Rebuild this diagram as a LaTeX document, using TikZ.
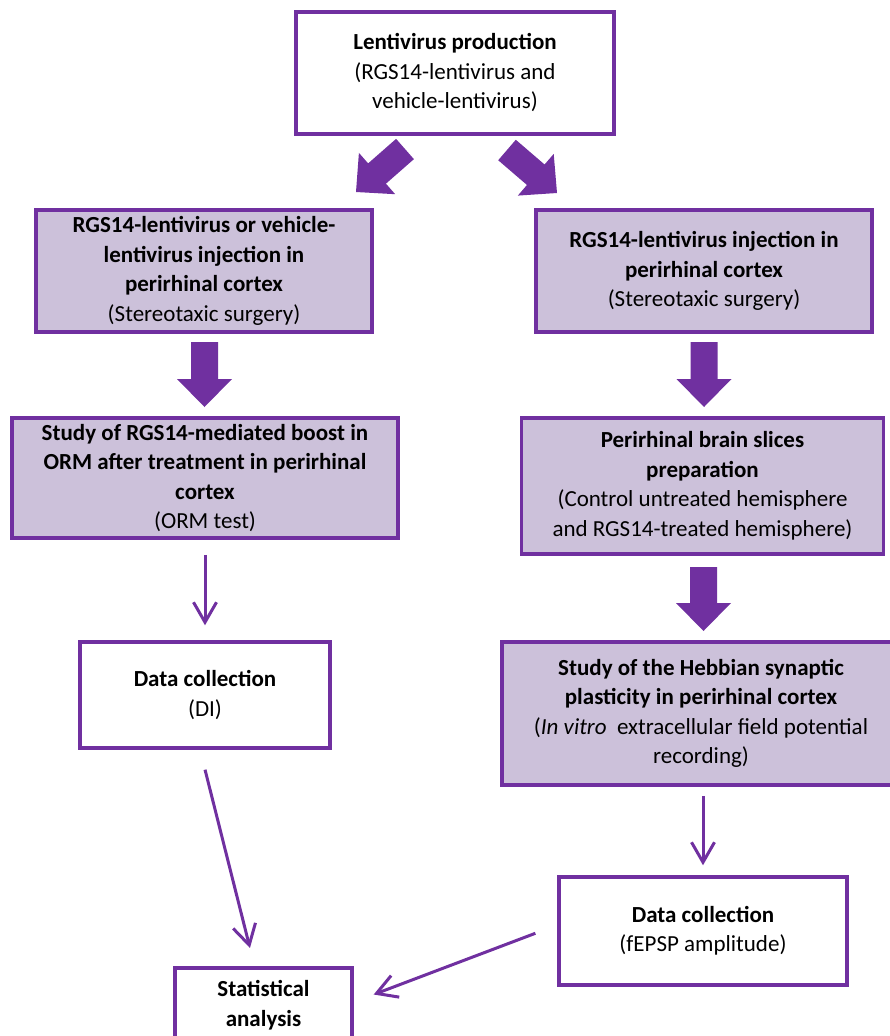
\documentclass[tikz,border=0pt]{standalone}
\usepackage{fontspec}
\setmainfont{Carlito}
\usetikzlibrary{arrows.meta,calc}

\definecolor{flowpurple}{HTML}{7030A0}
\definecolor{flowlilac}{HTML}{CCC1DA}

\tikzset{
  box/.style={draw=flowpurple, line width=3.5pt, fill=white, align=center,
    inner sep=0pt, font=\fontsize{23}{29.5}\selectfont},
  shaded/.style={box, fill=flowlilac},
  boxlabel/.style={align=center, inner sep=0pt, font=\fontsize{23}{29.5}\selectfont},
  thinarrow/.style={draw=flowpurple, line width=3pt,
    -{Straight Barb[length=20pt,width=23pt]}},
}

% thick filled arrow from #1 (tail) to #2 (tip)
\newcommand\fatarrow[2]{%
  \path ($(#2)!28pt!(#1)$) coordinate (fatbase);
  \fill[flowpurple]
    ($(#1)!13.5pt!90:(#2)$) -- ($(fatbase)!13.5pt!-90:(#1)$)
    -- ($(fatbase)!27.5pt!-90:(#1)$) -- (#2)
    -- ($(fatbase)!27.5pt!90:(#1)$) -- ($(fatbase)!13.5pt!90:(#1)$)
    -- ($(#1)!13.5pt!-90:(#2)$) -- cycle;
}

\begin{document}
\begin{tikzpicture}[x=1pt,y=1pt]
\useasboundingbox (0,0) rectangle (889,-1036);

% boxes
\node[box, minimum width=318, minimum height=122] (top) at (455,-73)
  {\textbf{Lentivirus production}\\(RGS14-lentivirus and\\vehicle-lentivirus)};

\node[shaded, minimum width=336, minimum height=122] (l1) at (204,-271)
  {\textbf{RGS14-lentivirus or vehicle-}\\\textbf{lentivirus injection in}\\\textbf{perirhinal cortex}\\(Stereotaxic surgery)};

\node[shaded, minimum width=336, minimum height=122] (r1) at (704,-271)
  {\textbf{RGS14-lentivirus injection in}\\\textbf{perirhinal cortex}\\(Stereotaxic surgery)};

\node[shaded, minimum width=386, minimum height=120] (l2) at (205,-478)
  {\textbf{Study of RGS14-mediated boost in}\\\textbf{ORM after treatment in perirhinal}\\\textbf{cortex}\\(ORM test)};

\node[shaded, minimum width=362, minimum height=136] (r2) at (702.5,-486)
  {\textbf{Perirhinal brain slices}\\\textbf{preparation}\\(Control untreated hemisphere\\and RGS14-treated hemisphere)};

\node[shaded, minimum width=398, minimum height=143] (r3) at (701,-713.5)
  {\textbf{Study of the Hebbian synaptic}\\\textbf{plasticity in perirhinal cortex}\\(\textit{In vitro}\ \ extracellular field potential\\recording)};

\node[box, minimum width=250, minimum height=106] (l3) at (205,-695)
  {\textbf{Data collection}\\(DI)};

\node[box, minimum width=288, minimum height=108] (r4) at (703,-931)
  {\textbf{Data collection}\\(fEPSP amplitude)};

\node[box, minimum width=177, minimum height=100, anchor=north] (stat) at (263.5,-966) {};
\node[boxlabel] (statlabel) at (263.5,-1005) {\textbf{Statistical}\\\textbf{analysis}};

% thick arrows
\coordinate (dlA) at (405,-149);  \coordinate (dlB) at (356,-192);
\coordinate (drA) at (507,-150);  \coordinate (drB) at (557,-193);
\coordinate (laA) at (204.5,-342); \coordinate (laB) at (204.5,-407);
\coordinate (raA) at (704,-342);  \coordinate (raB) at (704,-407);
\coordinate (rbA) at (703.5,-567); \coordinate (rbB) at (703.5,-631);
\fatarrow{dlA}{dlB}
\fatarrow{drA}{drB}
\fatarrow{laA}{laB}
\fatarrow{raA}{raB}
\fatarrow{rbA}{rbB}

% thin arrows
\draw[thinarrow, shorten <=15pt, shorten >=15pt] (l2.south) -- (l3.north);
\draw[thinarrow, shorten <=9pt, shorten >=10pt] (r4.north |- r3.south) -- (r4.north);
\draw[thinarrow, shorten <=20.6pt, shorten >=18.6pt]
  ([xshift=-5pt]l3.south) -- ([xshift=-9pt]stat.north);
\draw[thinarrow, shorten <=23.4pt, shorten >=21.3pt]
  ([yshift=6pt]r4.west) -- ([yshift=15.7pt]stat.east);
\end{tikzpicture}
\end{document}
